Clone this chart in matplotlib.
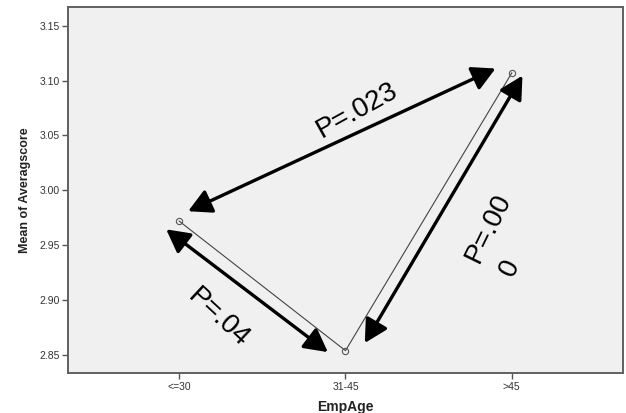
import matplotlib.pyplot as plt
import numpy as np

plt.rcParams['font.family'] = ['Liberation Sans', 'DejaVu Sans']

# Group means
age_groups = ["<=30", "31-45", ">45"]
mean_scores = [2.972, 2.854, 3.107]

# Pairwise comparison arrows: (x0, y0, x1, y1) in data units, and their labels
arrows = [
    (1.054, 2.981, 2.902, 3.111),
    (0.922, 2.9645, 1.894, 2.8527),
    (3.064, 3.1045, 2.116, 2.861),
]
p_labels = ["P=.023", "P=.04", "P=.00"]
p_label_pos = [(2.068, 3.0727), (1.234, 2.8836), (2.86, 2.9655)]
p_label_rot = [29, -43, 64]

yticks = [2.85, 2.90, 2.95, 3.00, 3.05, 3.10, 3.15]

fig = plt.figure(figsize=(6.26, 4.13), dpi=100)
ax = fig.add_axes([0.1091, 0.0959, 0.8856, 0.8879])
ax.set_facecolor('#f0f0f0')

x = np.arange(1, len(age_groups) + 1)
ax.plot(x, mean_scores, color='#444444', lw=0.8, marker='o', ms=4.5,
        mfc='none', mec='#555555', mew=0.8, zorder=3)

for (x0, y0, x1, y1) in arrows:
    ax.annotate('', xy=(x1, y1), xytext=(x0, y0),
                arrowprops=dict(arrowstyle='<|-|>,head_length=1.4,head_width=0.75',
                                color='black', lw=2.4, shrinkA=0, shrinkB=0),
                zorder=4)

for lab, (tx, ty), rot in zip(p_labels, p_label_pos, p_label_rot):
    ax.text(tx, ty, lab, rotation=rot, ha='center', va='center',
            fontsize=20, fontweight='medium', color='black', rotation_mode='anchor')
# wrapped last digit of the third label
ax.text(2.99, 2.929, "0", rotation=64, ha='center', va='center',
        fontsize=20, fontweight='medium', color='black', rotation_mode='anchor')

ax.set_xlim(1/3, 3 + 2/3)
ax.set_ylim(2.8333, 3.1673)
ax.set_xticks(x)
ax.set_xticklabels(age_groups)
ax.set_yticks(yticks)
ax.set_yticklabels([f"{v:.2f}" for v in yticks])
ax.tick_params(axis='both', labelsize=7.5, labelcolor='#333333',
               color='#555555', length=4, width=1, pad=2)

for s in ax.spines.values():
    s.set_color('#606060')
    s.set_linewidth(1.4)

ax.set_xlabel("EmpAge", fontsize=10, fontweight='bold', color='#222222', labelpad=6)
ax.set_ylabel("Mean of Averagscore", fontsize=9, fontweight='bold', color='#222222', labelpad=6)

fig.savefig("out.png", dpi=100)
